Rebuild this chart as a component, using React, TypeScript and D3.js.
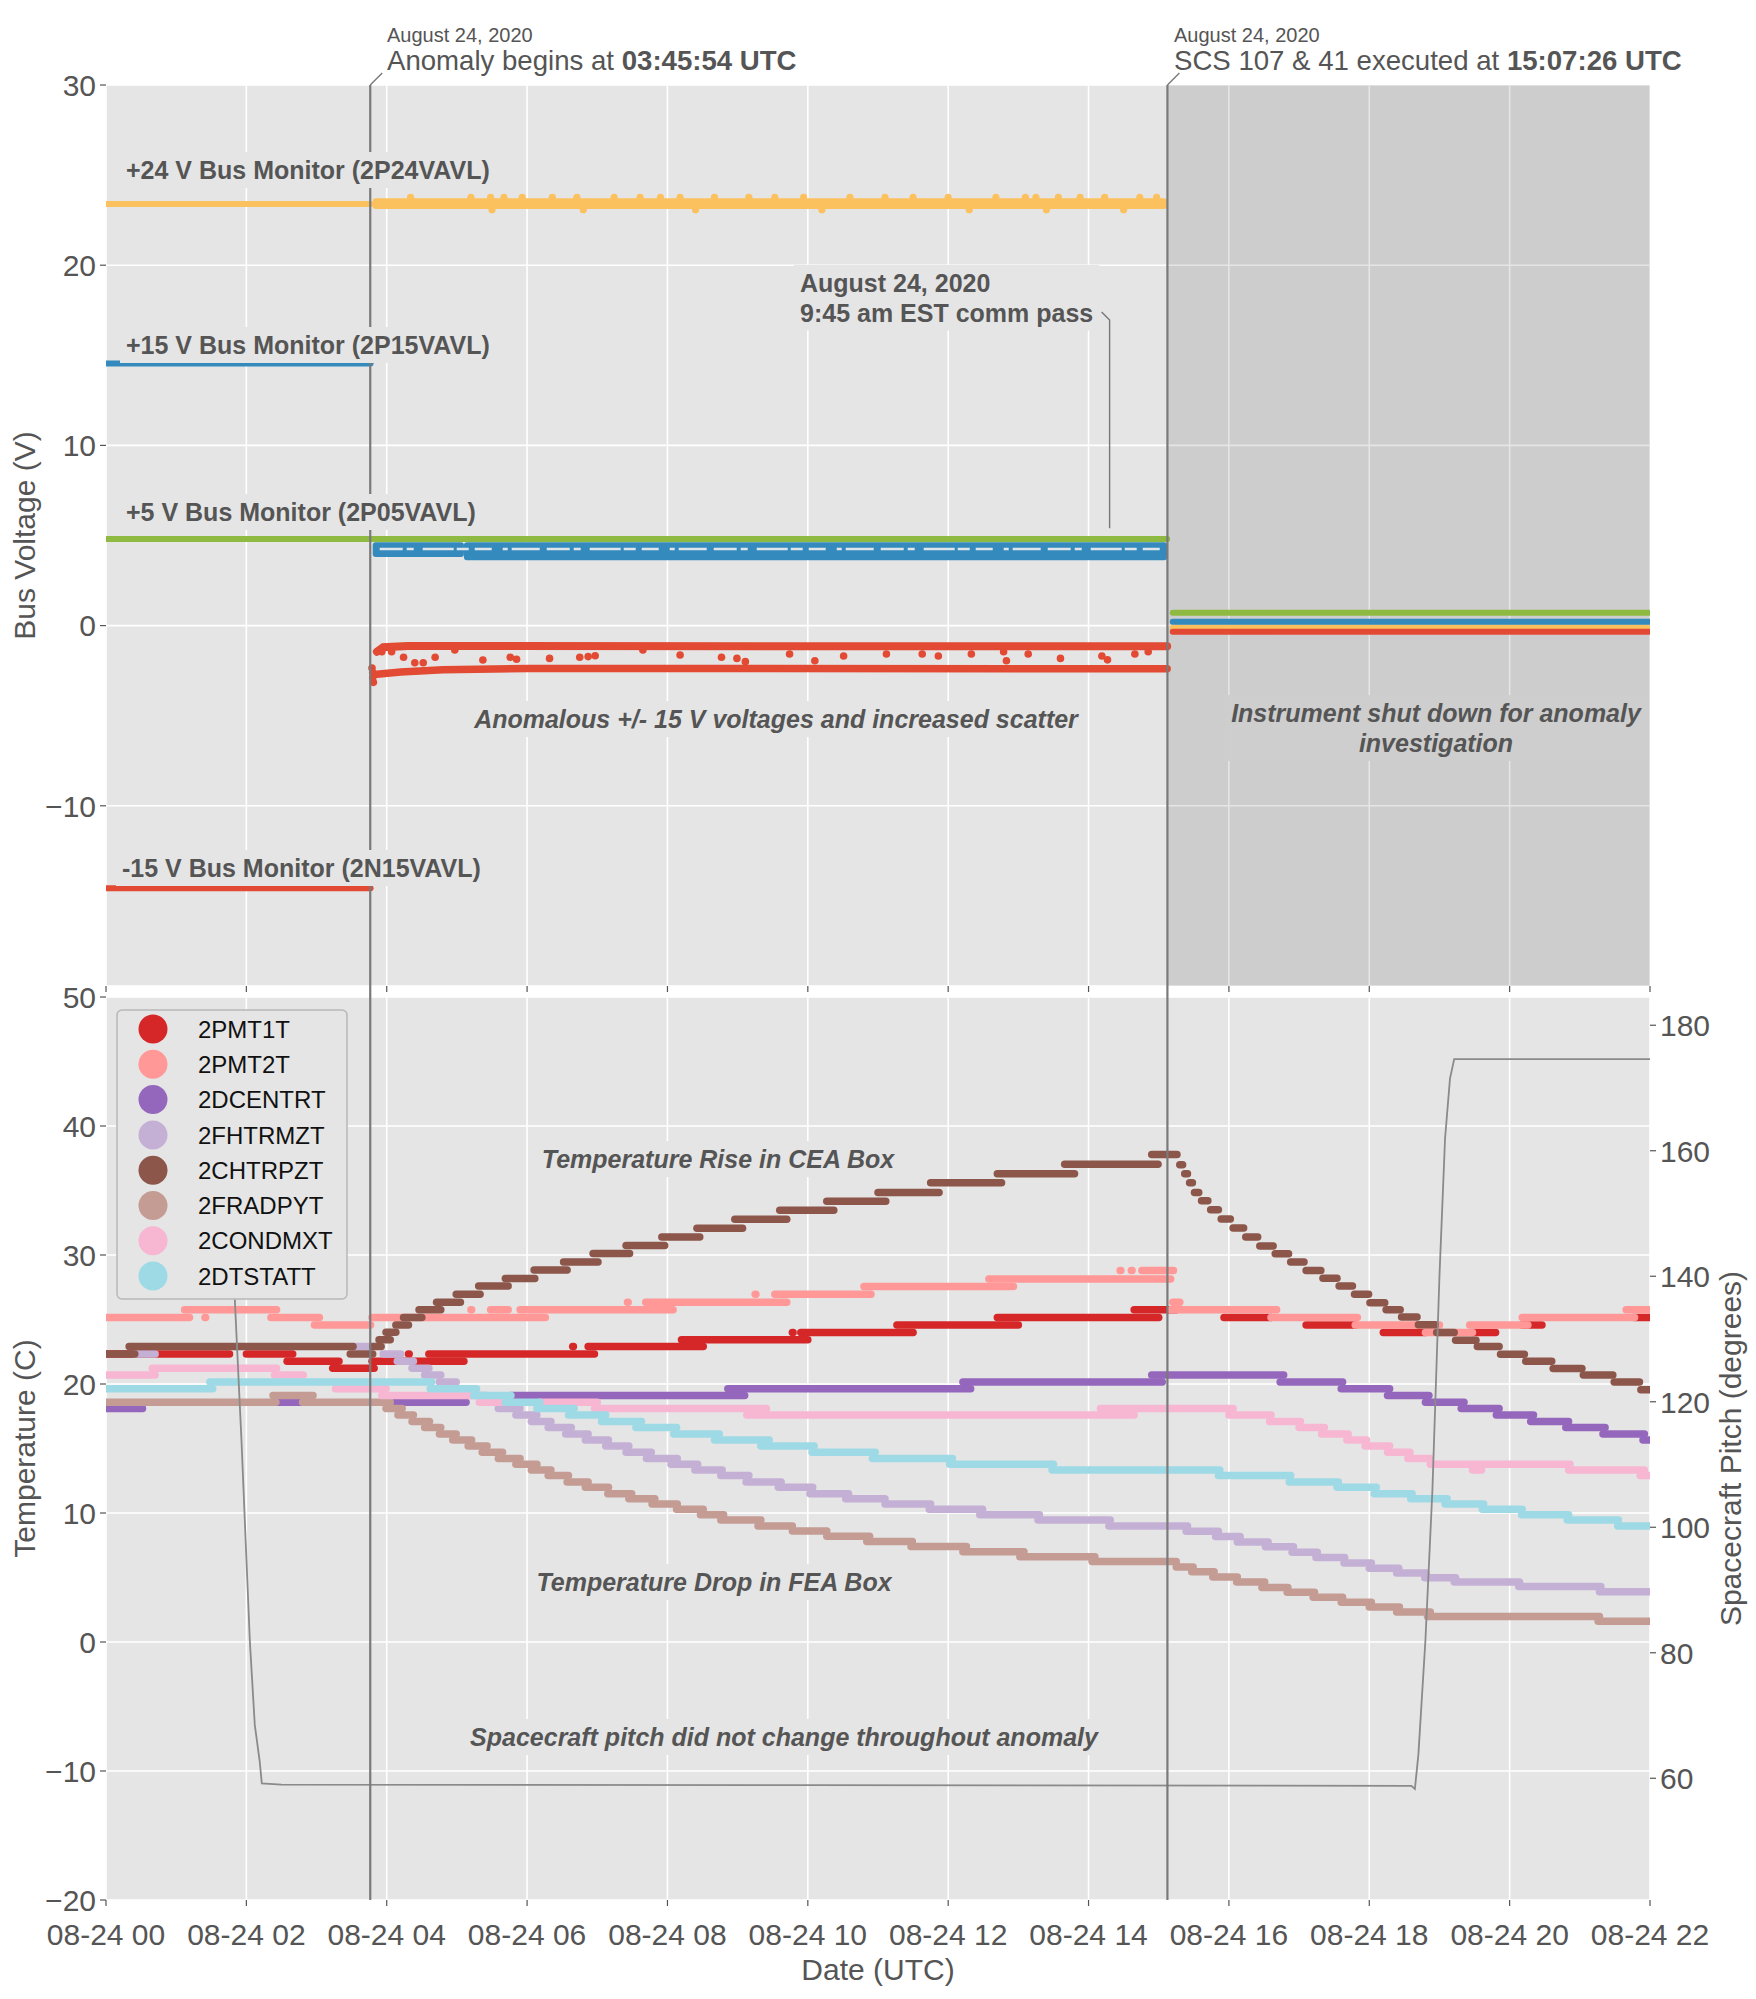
import * as d3 from "d3";
import { useEffect, useRef } from "react";

// times are hours after 2020-08-24 00:00 UTC
const T0 = Date.UTC(2020, 7, 24, 0, 0, 0);
const T_END = Date.UTC(2020, 7, 24, 22, 0, 0);
const ANOMALY = Date.UTC(2020, 7, 24, 3, 45, 54);
const SCS = Date.UTC(2020, 7, 24, 15, 7, 26);
const COMM_PASS = [14.3, 5.4];

const voltTicks = [-10, 0, 10, 20, 30];
const tempTicks = [-20, -10, 0, 10, 20, 30, 40, 50];
const pitchTicks = [60, 80, 100, 120, 140, 160, 180];

// bus monitors, steady parts: [start, end, volts]
const p24Steady = [[0, 3.77, 23.4], [15.2, 22, -0.1]];
const p15Steady = [[0, 3.77, 14.55], [15.2, 22, 0.22]];
const p05Steady = [[0, 15.12, 4.8], [15.2, 22, 0.72]];
const n15Steady = [[0, 3.77, -14.57], [15.2, 22, -0.34]];
// scattered parts after the anomaly: [start, end, low, high]
const p24Scatter = [[3.8, 15.12, 23.12, 23.72]];
const p24Outliers = [
  [4.34, 23.76], [5.2, 23.76], [5.48, 23.76], [5.67, 23.76], [5.93, 23.76], [6.36, 23.76], [6.71, 23.76],
  [7.24, 23.76], [7.61, 23.76], [7.9, 23.76], [8.18, 23.76], [8.67, 23.76], [9.16, 23.76], [9.53, 23.76],
  [9.94, 23.76], [10.6, 23.76], [11.1, 23.76], [11.5, 23.76], [12.0, 23.76], [12.68, 23.76], [13.1, 23.76],
  [13.25, 23.76], [13.57, 23.76], [13.88, 23.76], [14.23, 23.76], [14.73, 23.76], [14.97, 23.76],
  [5.5, 23.08], [6.8, 23.08], [8.4, 23.08], [10.2, 23.08], [12.3, 23.08], [13.4, 23.08], [14.5, 23.08],
];
const p15Scatter = [[3.8, 5.1, 3.8, 4.62], [5.1, 15.12, 3.62, 4.62]];
const p15Gap = [[3.9, 4.25], [15.05, 4.25]];
const n15Upper = [[3.86, -1.45], [3.95, -1.2], [4.3, -1.13], [15.12, -1.15]];
const n15Lower = [[3.86, -2.7], [4.2, -2.58], [4.8, -2.45], [6, -2.38], [15.12, -2.4]];
const n15Outliers = [
  [3.79, -2.35], [3.8, -2.6], [3.8, -2.9], [3.81, -3.15], [3.93, -1.45], [4.07, -1.45],
  [4.24, -1.76], [4.4, -2.06], [4.52, -2.06], [4.69, -1.76], [4.97, -1.35], [5.37, -1.91],
  [5.76, -1.76], [5.85, -1.87], [6.32, -1.82], [6.75, -1.76], [6.87, -1.72], [6.97, -1.67],
  [7.65, -1.35], [8.18, -1.63], [8.77, -1.76], [8.99, -1.82], [9.11, -2.0], [9.74, -1.58],
  [10.1, -1.95], [10.51, -1.69], [11.12, -1.58], [11.63, -1.58], [11.86, -1.69], [12.33, -1.58],
  [12.79, -1.45], [12.83, -1.95], [13.14, -1.58], [13.6, -1.82], [14.19, -1.69], [14.27, -1.9],
  [14.66, -1.58], [14.85, -1.45],
];

// temperatures: [start, end, degC]
const pmt1tSteps = [
  [0, 1.76, 22.33], [2.0, 2.66, 22.33], [2.58, 3.32, 21.77], [3.23, 3.82, 21.22], [3.79, 4.17, 21.77],
  [4.31, 4.32, 22.33], [4.2, 5.1, 21.77], [4.6, 6.96, 22.33], [6.65, 6.66, 22.9], [6.87, 8.51, 22.9],
  [8.2, 10.0, 23.43], [9.78, 9.79, 23.99], [9.9, 11.5, 23.99], [11.27, 13.0, 24.58], [12.7, 15.0, 25.16],
  [14.65, 15.25, 25.75], [15.93, 16.6, 25.16], [17.1, 17.8, 24.58], [18.2, 18.8, 23.99],
  [19.47, 19.8, 23.99], [20.18, 20.46, 24.58], [21.78, 22, 25.16],
];
const pmt2tSteps = [
  [0, 1.19, 25.16], [1.41, 1.42, 25.16], [1.12, 2.43, 25.75], [2.35, 3.04, 25.16], [2.97, 3.77, 24.58],
  [3.79, 6.26, 25.16], [5.2, 5.21, 25.75], [5.48, 5.73, 25.75], [5.9, 8.08, 25.75], [7.43, 7.44, 26.34],
  [7.69, 9.7, 26.34], [9.25, 9.26, 26.96], [9.53, 10.9, 26.96], [10.8, 12.88, 27.55], [12.92, 12.93, 27.55],
  [12.58, 15.17, 28.14], [14.45, 14.46, 28.8], [14.61, 14.62, 28.8], [14.76, 15.21, 28.8],
  [15.2, 15.3, 26.34], [15.17, 16.68, 25.75], [16.6, 17.83, 25.16], [17.8, 19.0, 24.58],
  [18.8, 19.47, 23.99], [19.43, 20.26, 24.58], [20.18, 21.78, 25.16], [21.66, 22, 25.75],
];
const dcentrtSteps = [
  [0, 0.52, 18.11], [2.44, 2.78, 18.59], [4.05, 5.13, 18.59], [5.77, 9.1, 19.11], [8.86, 12.32, 19.63],
  [12.21, 15.05, 20.15], [14.9, 16.78, 20.7], [16.73, 17.62, 20.15], [17.6, 18.29, 19.63],
  [18.26, 18.85, 19.11], [18.8, 19.35, 18.59], [19.31, 19.85, 18.11], [19.81, 20.34, 17.59],
  [20.3, 20.84, 17.1], [20.8, 21.36, 16.62], [21.33, 21.92, 16.13], [21.9, 22, 15.65],
];
const fhtrmztSteps = [
  [0.41, 0.7, 22.33], [3.52, 3.8, 22.9], [3.95, 4.2, 22.33], [4.15, 4.38, 21.77], [4.36, 4.6, 21.22],
  [4.54, 4.77, 20.7], [4.75, 4.99, 20.15], [4.97, 5.2, 19.63], [5.18, 5.42, 19.11], [5.4, 5.62, 18.59],
  [5.59, 5.9, 18.11], [5.84, 6.14, 17.59], [6.06, 6.34, 17.1], [6.3, 6.63, 16.62], [6.55, 6.87, 16.13],
  [6.83, 7.16, 15.65], [7.12, 7.45, 15.2], [7.41, 7.77, 14.7], [7.7, 8.14, 14.23], [8.05, 8.43, 13.78],
  [8.39, 8.78, 13.33], [8.76, 9.16, 12.9], [9.12, 9.62, 12.4], [9.58, 10.07, 12.0], [10.03, 10.58, 11.5],
  [10.54, 11.1, 11.1], [11.1, 11.75, 10.7], [11.73, 12.49, 10.3], [12.45, 13.3, 9.87], [13.28, 14.31, 9.46],
  [14.29, 15.41, 9.0], [15.39, 15.85, 8.59], [15.81, 16.16, 8.17], [16.12, 16.56, 7.76], [16.52, 16.92, 7.38],
  [16.9, 17.26, 6.96], [17.24, 17.65, 6.55], [17.64, 18.03, 6.13], [18.0, 18.42, 5.72], [18.39, 18.81, 5.34],
  [18.79, 19.23, 4.99], [19.21, 20.14, 4.65], [20.13, 21.3, 4.3], [21.28, 22, 3.9],
];
const chtrpztSteps = [
  [0, 0.41, 22.33], [0.33, 3.52, 22.9], [3.48, 3.8, 22.33], [3.8, 3.92, 22.9], [3.89, 4.05, 23.43],
  [3.99, 4.13, 24.02], [4.13, 4.31, 24.58], [4.24, 4.5, 25.16], [4.46, 4.77, 25.75], [4.71, 5.05, 26.34],
  [4.99, 5.33, 26.96], [5.31, 5.73, 27.59], [5.69, 6.11, 28.17], [6.1, 6.57, 28.83], [6.52, 7.01, 29.45],
  [6.94, 7.46, 30.11], [7.41, 7.96, 30.73], [7.92, 8.46, 31.39], [8.42, 9.07, 32.08], [8.96, 9.7, 32.78],
  [9.6, 10.37, 33.47], [10.27, 11.11, 34.16], [11.0, 11.87, 34.85], [11.75, 12.76, 35.6],
  [12.7, 13.8, 36.3], [13.66, 14.99, 37.03], [14.9, 15.26, 37.8], [15.3, 15.34, 37.0],
  [15.37, 15.41, 36.3], [15.44, 15.48, 35.6], [15.51, 15.57, 34.85], [15.61, 15.7, 34.2],
  [15.74, 15.85, 33.5], [15.89, 16.02, 32.8], [16.06, 16.21, 32.1], [16.24, 16.41, 31.4],
  [16.44, 16.63, 30.7], [16.66, 16.85, 30.1], [16.88, 17.07, 29.45], [17.1, 17.31, 28.8],
  [17.34, 17.54, 28.2], [17.57, 17.76, 27.6], [17.79, 17.99, 26.96], [18.01, 18.22, 26.3],
  [18.24, 18.44, 25.75], [18.46, 18.68, 25.2], [18.7, 18.94, 24.6], [18.96, 19.21, 24.0],
  [19.23, 19.52, 23.4], [19.54, 19.85, 22.9], [19.87, 20.21, 22.3], [20.23, 20.6, 21.77],
  [20.62, 21.03, 21.2], [21.05, 21.47, 20.7], [21.49, 21.85, 20.15], [21.87, 22, 19.55],
];
const fradpytSteps = [
  [0, 2.42, 18.59], [2.38, 2.95, 19.11], [2.8, 4.05, 18.59], [3.99, 4.22, 18.11], [4.16, 4.38, 17.59],
  [4.36, 4.61, 17.1], [4.54, 4.77, 16.62], [4.75, 4.99, 16.13], [4.94, 5.21, 15.65], [5.16, 5.43, 15.2],
  [5.36, 5.65, 14.7], [5.59, 5.9, 14.23], [5.84, 6.14, 13.78], [6.06, 6.34, 13.33], [6.3, 6.59, 12.9],
  [6.57, 6.87, 12.4], [6.83, 7.16, 12.0], [7.15, 7.49, 11.5], [7.45, 7.82, 11.1], [7.78, 8.14, 10.7],
  [8.13, 8.51, 10.3], [8.47, 8.8, 9.87], [8.76, 9.33, 9.46], [9.29, 9.78, 9.0], [9.78, 10.27, 8.6],
  [10.27, 10.88, 8.2], [10.84, 11.49, 7.8], [11.47, 12.26, 7.4], [12.21, 13.08, 7.0], [13.02, 14.09, 6.6],
  [14.05, 15.25, 6.24], [15.25, 15.49, 5.82], [15.47, 15.79, 5.44], [15.77, 16.12, 5.03],
  [16.11, 16.51, 4.65], [16.47, 16.84, 4.23], [16.83, 17.22, 3.85], [17.2, 17.62, 3.47],
  [17.6, 18.03, 3.09], [18.0, 18.43, 2.71], [18.39, 18.87, 2.33], [18.83, 21.28, 1.98], [21.26, 22, 1.6],
];
const condmxtSteps = [
  [0, 0.7, 20.7], [0.66, 2.43, 21.22], [2.4, 2.81, 20.7], [3.27, 3.99, 19.63], [3.93, 5.2, 19.11],
  [5.32, 5.77, 18.59], [6.18, 7.0, 18.59], [6.96, 9.41, 18.11], [9.13, 14.65, 17.59], [14.17, 16.06, 18.11],
  [16.0, 16.6, 17.59], [16.58, 17.02, 17.1], [17.0, 17.36, 16.62], [17.32, 17.7, 16.13],
  [17.68, 17.96, 15.65], [17.94, 18.29, 15.2], [18.26, 18.58, 14.7], [18.55, 18.87, 14.23],
  [18.87, 20.86, 13.78], [19.47, 19.6, 13.33], [20.84, 21.92, 13.33], [21.86, 22, 12.9],
];
const dtstattSteps = [
  [0, 1.52, 19.63], [1.48, 4.64, 20.15], [4.62, 5.28, 19.63], [5.24, 5.77, 19.11], [5.69, 6.18, 18.59],
  [6.14, 6.67, 18.11], [6.59, 7.12, 17.59], [7.06, 7.63, 17.1], [7.55, 8.13, 16.62], [8.09, 8.74, 16.13],
  [8.67, 9.45, 15.65], [9.33, 10.09, 15.2], [10.06, 10.96, 14.7], [10.92, 12.06, 14.23],
  [12.02, 13.5, 13.78], [13.48, 15.87, 13.33], [15.85, 16.88, 12.9], [16.86, 17.56, 12.4],
  [17.54, 18.1, 12.0], [18.07, 18.61, 11.5], [18.59, 19.11, 11.1], [19.08, 19.63, 10.7],
  [19.61, 20.18, 10.3], [20.17, 20.84, 9.87], [20.82, 21.55, 9.46], [21.54, 22, 9.0],
];

// spacecraft pitch: [hour, degrees]
const pitchTrace = [
  [1.68, 174.6], [1.84, 135.2], [1.93, 113.9], [2.05, 81.8], [2.12, 68.5], [2.19, 62.7], [2.22, 59.2],
  [2.5, 59.0], [10, 58.9], [18.6, 58.8], [18.65, 58.3], [18.7, 63.8], [18.8, 82], [18.9, 106],
  [19.0, 140], [19.08, 162], [19.15, 171.5], [19.21, 174.6], [22, 174.6],
];

const seriesNames = ["2PMT1T", "2PMT2T", "2DCENTRT", "2FHTRMZT", "2CHTRPZT", "2FRADPYT", "2CONDMXT", "2DTSTATT"];
const seriesColors = ["#d62728", "#ff9896", "#9467bd", "#c5b0d5", "#8c564b", "#c49c94", "#f7b6d2", "#9edae5"];
const seriesSteps = [pmt1tSteps, pmt2tSteps, dcentrtSteps, fhtrmztSteps, chtrpztSteps, fradpytSteps, condmxtSteps, dtstattSteps];

const FONT = "'Liberation Sans', Arial, Helvetica, sans-serif";
const INK = "#555555";
const BG = "#E5E5E5";

export default function App() {
  const ref = useRef<SVGSVGElement | null>(null);

  useEffect(() => {
    if (!ref.current) return;
    const svg = d3.select(ref.current);
    svg.selectAll("*").remove();
    svg.attr("font-family", FONT);

    const left = 106, right = 1650;
    const top0 = 85, top1 = 986, bot0 = 997, bot1 = 1900;

    const x = d3.scaleUtc().domain([new Date(T0), new Date(T_END)]).range([left, right]);
    const xh = (h: number) => x(new Date(T0 + h * 3600e3));
    const yV = d3.scaleLinear().domain([-20, 30]).range([top1, top0]);
    const yT = d3.scaleLinear().domain([-20, 50]).range([bot1, bot0]);
    const yP = d3.scaleLinear().domain([40.6, 184.5]).range([bot1, bot0]);
    const xTicks = x.ticks(d3.utcHour.every(2)!);
    const fmt = d3.utcFormat("%m-%d %H");
    const minus = (v: number) => (v < 0 ? "\u2212" + Math.abs(v) : String(v));

    const defs = svg.append("defs");
    defs.append("clipPath").attr("id", "clipTop").append("rect")
      .attr("x", left).attr("y", top0).attr("width", right - left).attr("height", top1 - top0);
    defs.append("clipPath").attr("id", "clipBot").append("rect")
      .attr("x", left).attr("y", bot0).attr("width", right - left).attr("height", bot1 - bot0);

    // backgrounds
    svg.append("rect").attr("x", left).attr("y", top0).attr("width", right - left).attr("height", top1 - top0).attr("fill", BG);
    svg.append("rect").attr("x", left).attr("y", bot0).attr("width", right - left).attr("height", bot1 - bot0).attr("fill", BG);

    // grid
    const grid = svg.append("g").attr("stroke", "#fff").attr("stroke-width", 1.6);
    xTicks.forEach((t) => {
      grid.append("line").attr("x1", x(t)).attr("x2", x(t)).attr("y1", top0).attr("y2", top1);
      grid.append("line").attr("x1", x(t)).attr("x2", x(t)).attr("y1", bot0).attr("y2", bot1);
    });
    [-20, ...voltTicks].forEach((v) =>
      grid.append("line").attr("x1", left).attr("x2", right).attr("y1", yV(v)).attr("y2", yV(v)));
    tempTicks.forEach((v) =>
      grid.append("line").attr("x1", left).attr("x2", right).attr("y1", yT(v)).attr("y2", yT(v)));

    // shutdown region
    svg.append("rect").attr("x", x(new Date(SCS))).attr("y", top0)
      .attr("width", right - x(new Date(SCS))).attr("height", top1 - top0)
      .attr("fill", "#000").attr("opacity", 0.1);

    // ---- top panel data
    const top = svg.append("g").attr("clip-path", "url(#clipTop)");
    const steady = (rows: number[][], color: string) =>
      rows.forEach(([a, b, v]) =>
        top.append("line").attr("x1", xh(a)).attr("x2", xh(b)).attr("y1", yV(v)).attr("y2", yV(v))
          .attr("stroke", color).attr("stroke-width", 6).attr("stroke-linecap", "round"));
    const scatter = (rows: number[][], color: string) =>
      rows.forEach(([a, b, lo, hi]) =>
        top.append("rect").attr("x", xh(a)).attr("width", xh(b) - xh(a))
          .attr("y", yV(hi)).attr("height", yV(lo) - yV(hi)).attr("rx", 3).attr("fill", color));
    const dots = (rows: number[][], color: string, r: number) =>
      top.append("g").selectAll("circle").data(rows).join("circle")
        .attr("cx", (d) => xh(d[0])).attr("cy", (d) => yV(d[1])).attr("r", r).attr("fill", color);
    const path = d3.line<number[]>().x((d) => xh(d[0])).y((d) => yV(d[1]));

    steady(p24Steady, "#FBC15E");
    scatter(p24Scatter, "#FBC15E");
    dots(p24Outliers, "#FBC15E", 3.6);
    steady(n15Steady, "#E24A33");
    top.append("path").attr("d", path(n15Upper)).attr("fill", "none").attr("stroke", "#E24A33")
      .attr("stroke-width", 8).attr("stroke-linecap", "round");
    top.append("path").attr("d", path(n15Lower)).attr("fill", "none").attr("stroke", "#E24A33")
      .attr("stroke-width", 7.5).attr("stroke-linecap", "round");
    dots(n15Outliers, "#E24A33", 3.8);
    steady(p15Steady, "#348ABD");
    scatter(p15Scatter, "#348ABD");
    top.append("path").attr("d", path(p15Gap)).attr("fill", "none").attr("stroke", "#dfe6ea")
      .attr("stroke-width", 2.4).attr("stroke-dasharray", "23 4 7 9 31 3 12 6 17 11 5 4 28 7");
    steady(p05Steady, "#8EBA42");

    // ---- bottom panel data
    const bot = svg.append("g").attr("clip-path", "url(#clipBot)");
    seriesSteps.forEach((steps, i) => {
      bot.append("g").selectAll("line").data(steps).join("line")
        .attr("x1", (d) => xh(d[0])).attr("x2", (d) => xh(d[1]))
        .attr("y1", (d) => yT(d[2])).attr("y2", (d) => yT(d[2]))
        .attr("stroke", seriesColors[i]).attr("stroke-width", 7.5).attr("stroke-linecap", "round");
    });
    const pitchLine = d3.line<number[]>().x((d) => xh(d[0])).y((d) => yP(d[1]));
    bot.append("path").attr("d", pitchLine(pitchTrace)).attr("fill", "none")
      .attr("stroke", "#8a8a8a").attr("stroke-width", 1.8);

    // event lines
    [ANOMALY, SCS].forEach((t) =>
      svg.append("line").attr("x1", x(new Date(t))).attr("x2", x(new Date(t)))
        .attr("y1", top0).attr("y2", bot1).attr("stroke", "#7a7a7a").attr("stroke-width", 2.2));

    // annotation helper: bold text lines with a background box
    const note = (lines: string[], px: number, py: number, gap: number, anchor: string,
      italic: boolean, size: number, box: string | null) => {
      const g = svg.append("g");
      const bg = g.append("rect");
      const texts = lines.map((s, i) =>
        g.append("text").attr("x", px).attr("y", py + i * gap).attr("text-anchor", anchor)
          .attr("font-size", size).attr("font-weight", "bold")
          .attr("font-style", italic ? "italic" : "normal").attr("fill", INK).text(s));
      if (box) {
        const boxes = texts.map((t) => (t.node() as SVGTextElement).getBBox());
        const x0 = d3.min(boxes, (b) => b.x)!, x1 = d3.max(boxes, (b) => b.x + b.width)!;
        const y0 = d3.min(boxes, (b) => b.y)!, y1 = d3.max(boxes, (b) => b.y + b.height)!;
        const pad = 6;
        bg.attr("x", x0 - pad).attr("y", y0 - pad + 2).attr("width", x1 - x0 + 2 * pad)
          .attr("height", y1 - y0 + 2 * pad - 4).attr("fill", box);
      }
    };

    // comm pass connector
    const cx = xh(COMM_PASS[0]);
    svg.append("path")
      .attr("d", `M${cx - 8},${312} L${cx},${320} L${cx},${yV(COMM_PASS[1])}`)
      .attr("fill", "none").attr("stroke", "#777").attr("stroke-width", 1.4);

    note(["+24 V Bus Monitor (2P24VAVL)"], 126, 179, 0, "start", false, 25, BG);
    note(["+15 V Bus Monitor (2P15VAVL)"], 126, 354, 0, "start", false, 25, BG);
    note(["+5 V Bus Monitor (2P05VAVL)"], 126, 521, 0, "start", false, 25, BG);
    note(["-15 V Bus Monitor (2N15VAVL)"], 122, 877, 0, "start", false, 25, BG);
    note(["August 24, 2020", "9:45 am EST comm pass"], 800, 292, 29.5, "start", false, 25, BG);
    note(["Anomalous +/- 15 V voltages and increased scatter"], 776, 728, 0, "middle", true, 25, BG);
    note(["Instrument shut down for anomaly", "investigation"], 1436, 722, 30, "middle", true, 25, "#cecece");
    note(["Temperature Rise in CEA Box"], 718, 1168, 0, "middle", true, 25, BG);
    note(["Temperature Drop in FEA Box"], 714, 1591, 0, "middle", true, 25, BG);
    note(["Spacecraft pitch did not change throughout anomaly"], 784, 1746, 0, "middle", true, 25, BG);

    // event annotations above the plot
    const eventNote = (t: number, tx0: number, plain: string, strong: string) => {
      const ex = x(new Date(t));
      svg.append("path").attr("d", `M${ex},${top0} L${ex + 12},${top0 - 12}`)
        .attr("stroke", "#777").attr("stroke-width", 1.3).attr("fill", "none");
      svg.append("text").attr("x", tx0).attr("y", 42).attr("font-size", 20).attr("fill", INK)
        .text("August 24, 2020");
      const tx = svg.append("text").attr("x", tx0).attr("y", 70).attr("font-size", 27.6).attr("fill", INK);
      tx.append("tspan").text(plain);
      tx.append("tspan").attr("font-weight", "bold").text(strong);
    };
    eventNote(ANOMALY, 387, "Anomaly begins at ", "03:45:54 UTC");
    eventNote(SCS, 1174, "SCS 107 & 41 executed at ", "15:07:26 UTC");

    // legend
    const lg = svg.append("g");
    lg.append("rect").attr("x", 117).attr("y", 1010).attr("width", 230).attr("height", 289).attr("rx", 5)
      .attr("fill", BG).attr("stroke", "#b8b8b8").attr("stroke-width", 1.5);
    seriesNames.forEach((name, i) => {
      const cy = 1029 + i * 35.3;
      lg.append("circle").attr("cx", 153).attr("cy", cy).attr("r", 14.5).attr("fill", seriesColors[i]);
      lg.append("text").attr("x", 198).attr("y", cy).attr("dy", "0.36em").attr("font-size", 24)
        .attr("fill", "#111").text(name);
    });

    // axes
    const ax = svg.append("g").attr("fill", INK).attr("font-size", 30);
    const tick = (x1: number, y1: number, x2: number, y2: number) =>
      ax.append("line").attr("x1", x1).attr("y1", y1).attr("x2", x2).attr("y2", y2)
        .attr("stroke", INK).attr("stroke-width", 1.2);
    voltTicks.forEach((v) => {
      tick(left - 6, yV(v), left, yV(v));
      ax.append("text").attr("x", left - 10).attr("y", yV(v)).attr("dy", "0.36em")
        .attr("text-anchor", "end").text(minus(v));
    });
    tempTicks.forEach((v) => {
      tick(left - 6, yT(v), left, yT(v));
      ax.append("text").attr("x", left - 10).attr("y", yT(v)).attr("dy", "0.36em")
        .attr("text-anchor", "end").text(minus(v));
    });
    pitchTicks.forEach((v) => {
      tick(right, yP(v), right + 6, yP(v));
      ax.append("text").attr("x", right + 10).attr("y", yP(v)).attr("dy", "0.36em").text(v);
    });
    xTicks.forEach((t) => {
      tick(x(t), top1, x(t), top1 + 6);
      tick(x(t), bot1, x(t), bot1 + 6);
      ax.append("text").attr("x", x(t)).attr("y", 1945).attr("text-anchor", "middle").text(fmt(t));
    });
    ax.append("text").attr("x", (left + right) / 2).attr("y", 1980).attr("text-anchor", "middle")
      .text("Date (UTC)");
    ax.append("text").attr("transform", `translate(35,${(top0 + top1) / 2}) rotate(-90)`)
      .attr("text-anchor", "middle").text("Bus Voltage (V)");
    ax.append("text").attr("transform", `translate(35,${(bot0 + bot1) / 2}) rotate(-90)`)
      .attr("text-anchor", "middle").text("Temperature (C)");
    ax.append("text").attr("transform", `translate(1741,${(bot0 + bot1) / 2}) rotate(-90)`)
      .attr("text-anchor", "middle").text("Spacecraft Pitch (degrees)");
  }, []);

  return (
    <svg
      ref={ref}
      width={1756}
      height={1999}
      viewBox="0 0 1756 1999"
      style={{ position: "absolute", left: 0, top: 0, background: "#fff" }}
    />
  );
}
